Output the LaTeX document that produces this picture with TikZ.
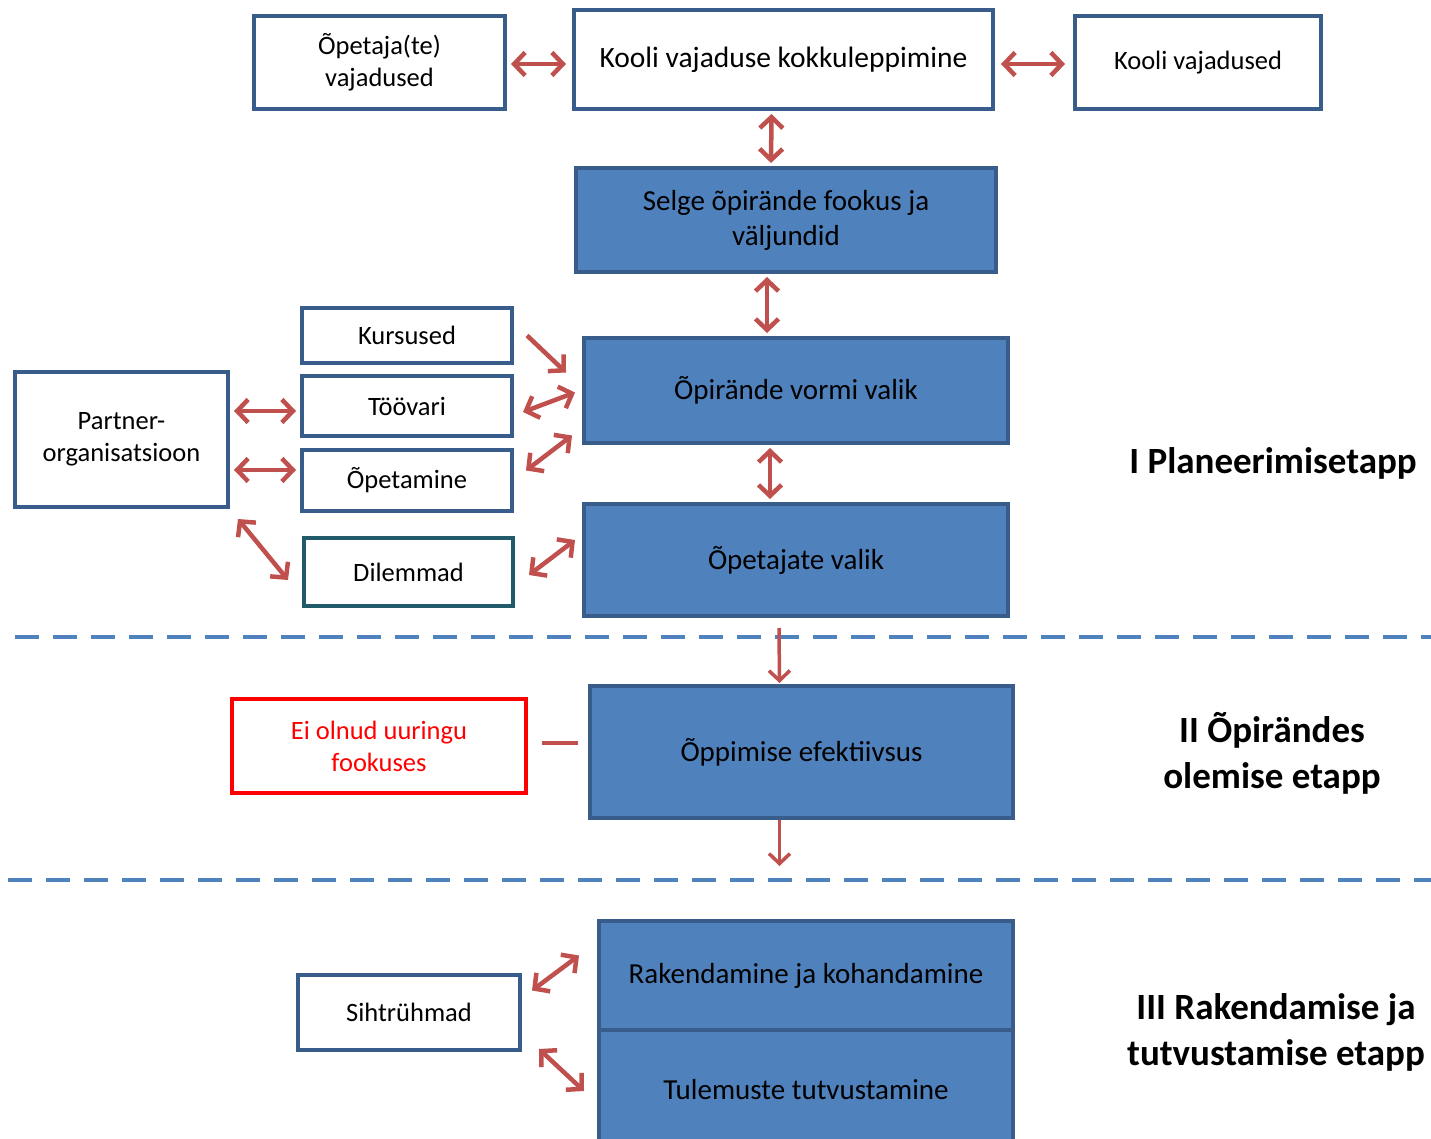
\documentclass[tikz,border=0pt]{standalone}
\usepackage{fontspec}
\setmainfont{Carlito}
\usetikzlibrary{arrows.meta}
\definecolor{boxline}{HTML}{385D8A}
\definecolor{boxfill}{HTML}{4F81BD}
\definecolor{arrowred}{HTML}{C0504D}
\definecolor{tealline}{HTML}{215A68}
\begin{document}
\begin{tikzpicture}[x=1pt,y=-1pt,
	wbox/.style={draw=boxline,line width=4pt,fill=white,align=center,inner sep=0pt,font=\fontsize{26.5}{32}\selectfont},
	bbox/.style={draw=boxline,line width=4pt,fill=boxfill,align=center,inner sep=0pt,font=\fontsize{29}{35}\selectfont},
	link/.style={draw=arrowred,line width=4.5pt,{Straight Barb[length=11pt,width=23pt]}-{Straight Barb[length=11pt,width=23pt]}},
	onelink/.style={draw=arrowred,line width=4.5pt,-{Straight Barb[length=11pt,width=23pt]}},
	down/.style={draw=arrowred,line width=3.5pt,-{Straight Barb[length=10pt,width=21pt]}},
	phase/.style={align=center,font=\fontsize{37}{46}\selectfont\bfseries},
	sep/.style={draw=boxfill,line width=4pt,dash pattern=on 24pt off 14pt}]
		\useasboundingbox (0,0) rectangle (1431,1139);

		\draw (379.5,62.5) node (opn)[wbox,minimum width=251,minimum height=93]{Õpetaja(te)\\vajadused};
		\draw (783.5,59.5) node (kvk)[wbox,minimum width=419,minimum height=99,font=\fontsize{29.5}{35}\selectfont]{Kooli vajaduse kokkuleppimine};
		\draw (1198,62.5) node (kv)[wbox,minimum width=246,minimum height=93]{Kooli vajadused};
		\draw (786,220) node (fook)[bbox,minimum width=420,minimum height=104]{Selge õpirände fookus ja\\väljundid};

		\draw (407,335.5) node (kurs)[wbox,minimum width=210,minimum height=55]{Kursused};
		\draw (407,406) node (toov)[wbox,minimum width=210,minimum height=60]{Töövari};
		\draw (407,480.5) node (opet)[wbox,minimum width=210,minimum height=61]{Õpetamine};
		\draw (408.5,572) node (dil)[wbox,draw=tealline,minimum width=209,minimum height=68]{Dilemmad};
		\draw (121.5,439.5) node (part)[wbox,minimum width=213,minimum height=135]{Partner-\\organisatsioon};

		\draw (796,390.5) node (vorm)[bbox,minimum width=424,minimum height=105]{Õpirände vormi valik};
		\draw (796,560) node (valik)[bbox,minimum width=424,minimum height=112]{Õpetajate valik};

		\draw (379,746) node (ei)[wbox,draw=red,text=red,minimum width=294,minimum height=94]{Ei olnud uuringu\\fookuses};
		\draw (801.5,752) node (eff)[bbox,minimum width=423,minimum height=132]{Õppimise efektiivsus};

		\draw (806,975.5) node (rak)[bbox,minimum width=414,minimum height=109]{Rakendamine ja kohandamine};
		\draw (806,1090) node (tul)[bbox,minimum width=414,minimum height=120]{Tulemuste tutvustamine};
		\draw (409,1012.5) node (siht)[wbox,minimum width=222,minimum height=75]{Sihtrühmad};

		\draw (1273,463) node (et1)[phase]{I Planeerimisetapp};
		\draw (1272,753) node (et2)[phase]{II Õpirändes\\olemise etapp};
		\draw (1276,1032) node (et3)[phase]{III Rakendamise ja\\tutvustamise etapp};

		\draw (15,637) coordinate (s1a) (1431,637) coordinate (s1b);
		\draw (8,880) coordinate (s2a) (1431,880) coordinate (s2b);
		\draw[sep] (s1a)--(s1b);
		\draw[sep] (s2a)--(s2b);

		\draw[link,shorten <=4pt,shorten >=6pt] ([yshift=-1.5]opn.east)--([yshift=-1.5]opn.east-|kvk.west);
		\draw[link,shorten <=6pt,shorten >=8pt] ([yshift=-1.5]kvk.east|-kv.west)--([yshift=-1.5]kv.west);
		\draw[link,shorten <=3pt,shorten >=3pt] ([xshift=-12]kvk.south)--([xshift=-15]fook.north);
		\draw[link,shorten <=3pt,shorten >=3pt] ([xshift=-19]fook.south)--([xshift=-29]vorm.north);
		\draw[link,shorten <=3pt,shorten >=3pt] ([xshift=-26]vorm.south)--([xshift=-26]valik.north);
		\draw[onelink] ([shift={(13,0)}]kurs.east)--([shift={(-16,-18)}]vorm.west);
		\draw[link] ([shift={(9,6)}]toov.east)--([shift={(-7,2)}]vorm.west);
		\draw[link] ([shift={(12,-10)}]opet.east)--([shift={(-10,45)}]vorm.west);
		\draw[link] ([shift={(14,3)}]dil.east)--([shift={(-7,-20)}]valik.west);
		\draw[link,shorten <=4pt,shorten >=4pt] ([yshift=-5]part.east|-toov.west)--([yshift=-5]toov.west);
		\draw[link,shorten <=4pt,shorten >=4pt] ([yshift=10.5]part.east|-opet.west)--([yshift=10.5]opet.west);
		\draw[link] ([shift={(8,10)}]part.south east)--([shift={(-14,8)}]dil.west);
		\draw[down] ([xshift=-17,yshift=-10]valik.south)--([xshift=-22,yshift=1]eff.north);
		\draw[arrowred,line width=4.5pt] ([shift={(14,-3)}]ei.east)--([shift={(-10,-9)}]eff.west);
		\draw[down] ([xshift=-22]eff.south)--([xshift=-22,yshift=14]eff.south|-s2a);
		\draw[link] ([shift={(10,-22)}]siht.east)--([shift={(-18,-20)}]rak.west);
		\draw[link] ([shift={(17,-3)}]siht.south east)--([shift={(-13,1)}]tul.west);
	\end{tikzpicture}
\end{document}
